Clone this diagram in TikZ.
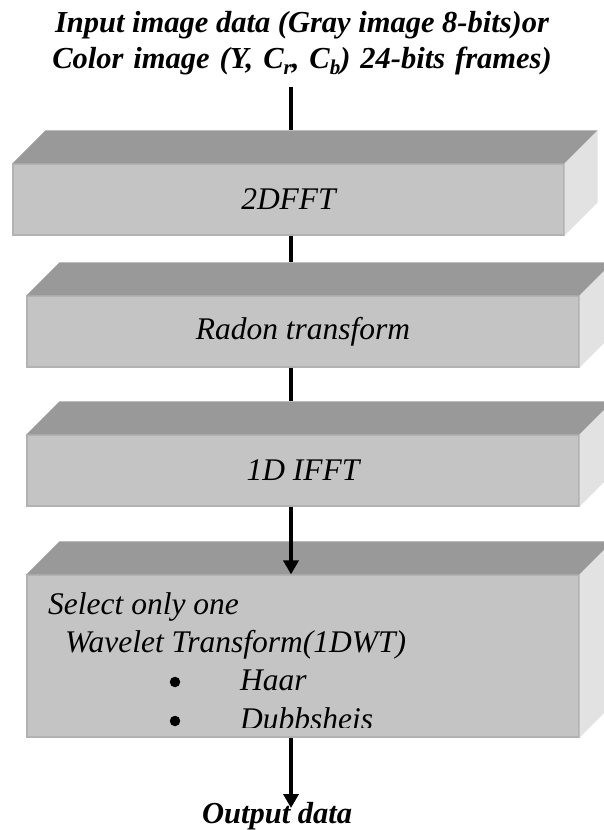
\documentclass[tikz,border=0pt]{standalone}
\usepackage{fontspec}
\setmainfont{Liberation Serif}
\usetikzlibrary{arrows.meta}

\definecolor{topgray}{HTML}{999999}
\definecolor{frontgray}{HTML}{C4C4C4}
\definecolor{sidegray}{HTML}{E2E2E2}
\definecolor{edgegray}{HTML}{B2B2B2}

\tikzset{
  frontface/.style={rectangle, fill=frontgray, draw=edgegray, line width=1.2pt,
    inner sep=0pt, font=\fontsize{31.5}{36}\selectfont\itshape},
  heading/.style={align=center, inner sep=0pt,
    font=\fontsize{30.5}{36}\selectfont\bfseries\itshape},
  boxtext/.style={anchor=base west, inner sep=0pt,
    font=\fontsize{31.5}{36}\selectfont\itshape},
  dot/.style={circle, fill=black, inner sep=0pt, minimum size=10.5pt},
  link/.style={line width=3.6pt, black},
  flow/.style={link, -{Triangle[length=14pt,width=15pt]}},
}

% top and right faces of a slab whose front face is node #1
\newcommand{\slabfaces}[1]{%
  \fill[topgray] (#1.north west) -- ++(33,-33)
    -- ([shift={(33,-33)}]#1.north east) -- (#1.north east) -- cycle;
  \fill[sidegray] (#1.north east) -- ++(33,-33)
    -- ([shift={(33,-33)}]#1.south east) -- (#1.south east) -- cycle;
}
\newcommand{\subidx}[1]{\raisebox{-0.22em}{\fontsize{21}{21}\selectfont #1}}

\begin{document}
\begin{tikzpicture}[x=1pt,y=-1pt]
\useasboundingbox (0,0) rectangle (603,830);

% heading
\node[heading] (input) at (302,43)
  {Input image data (Gray image 8-bits)or\\
   {\spaceskip=10pt plus 2pt Color image (Y, C\subidx{r}, C\subidx{b}) 24-bits frames)}};

% processing slabs
\node[frontface, minimum width=551pt, minimum height=71pt] (fft2) at (288.5,199.5) {2DFFT};
\slabfaces{fft2}
\node[frontface, minimum width=552pt, minimum height=71pt] (radon) at (303,331.5) {Radon transform};
\slabfaces{radon}
\node[frontface, minimum width=552pt, minimum height=71pt] (ifft) at (303,470.5) {1D IFFT};
\slabfaces{ifft}
\node[frontface, minimum width=552pt, minimum height=162pt] (dwt) at (303,656) {};
\slabfaces{dwt}

% wavelet choice list, cut off at the lower margin of its slab
\begin{scope}
  \clip (dwt.north west) rectangle ([yshift=10.5pt]dwt.south east);
  \node[boxtext] (sel) at (48,614) {Select only one};
  \node[boxtext] (wt) at (65,652) {Wavelet Transform(1DWT)};
  \node[dot] (b1) at (175,682) {};
  \node[boxtext] (haar) at (240,690) {Haar};
  \node[dot] (b2) at (175,721) {};
  \node[boxtext] (dub) at (240,729.5) {Dubbsheis};
\end{scope}

% output label
\node[heading, anchor=base west] (output) at (202,823) {Output data};

% connectors
\coordinate (c0) at (291,87);
\coordinate (t1) at ([shift={(33,-33)}]fft2.north west);
\coordinate (t2) at ([shift={(33,-33)}]radon.north west);
\coordinate (t3) at ([shift={(33,-33)}]ifft.north west);
\coordinate (tip) at (291,808);
\draw[link] (c0) -- (c0 |- t1);
\draw[link] (c0 |- fft2.south) -- (c0 |- t2);
\draw[link] (c0 |- radon.south) -- (c0 |- t3);
\draw[flow] (c0 |- ifft.south) -- (c0 |- dwt.north);
\draw[flow] (c0 |- dwt.south) -- (tip);
\end{tikzpicture}
\end{document}
